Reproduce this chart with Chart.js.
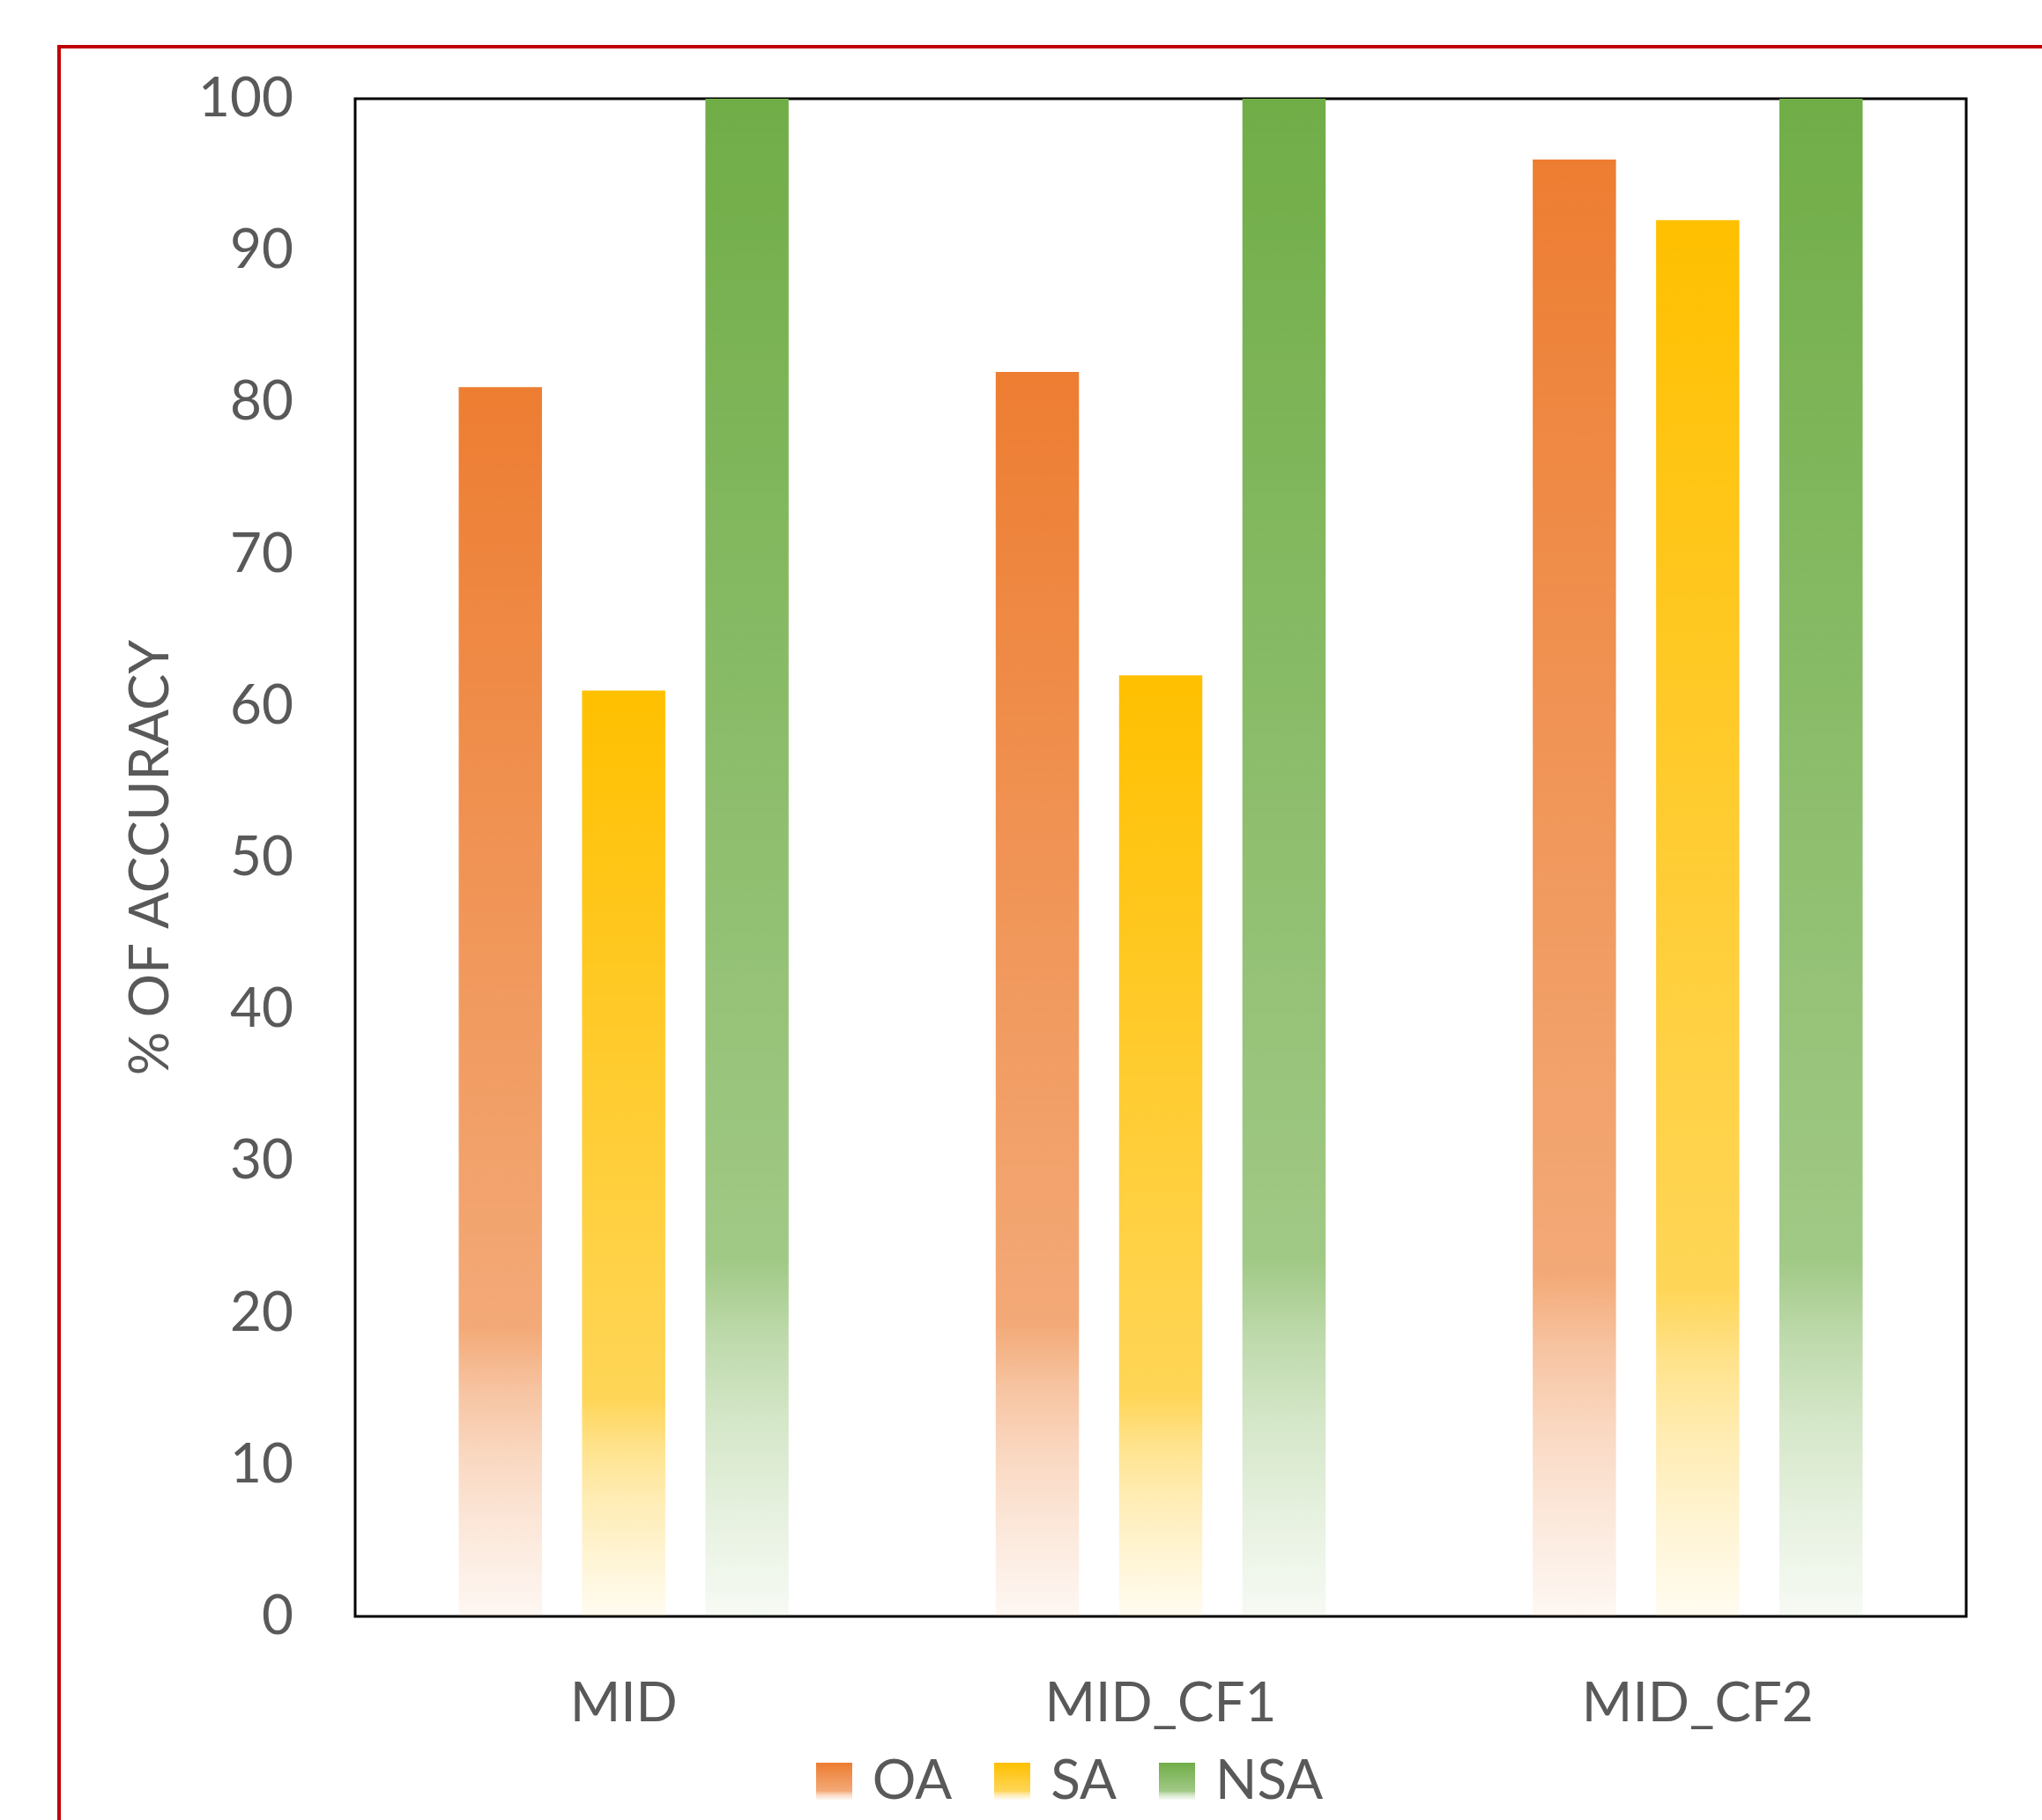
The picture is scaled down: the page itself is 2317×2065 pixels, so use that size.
<!DOCTYPE html>
<html>
<head>
<meta charset="utf-8">
<title>% of accuracy by dataset</title>
<script src="https://cdn.jsdelivr.net/npm/chart.js@4/dist/chart.umd.min.js"></script>
<style>
  html, body { margin: 0; padding: 0; background: #ffffff; overflow: hidden; }
  #wrap { width: 2317px; height: 2065px; position: relative; }
</style>
</head>
<body>
<div id="wrap"><canvas id="chart"></canvas></div>
<script>
// Categories and series
const categories = ['MID', 'MID_CF1', 'MID_CF2'];
const seriesNames = ['OA', 'SA', 'NSA'];
const oaValues = [81, 82, 96];
const saValues = [61, 62, 92];
const nsaValues = [100, 100, 100];
const yTickValues = [0, 10, 20, 30, 40, 50, 60, 70, 80, 90, 100];
const yAxisTitle = '% OF ACCURACY';

// Styling
const seriesColors = ['#ED7D31', '#FFC000', '#70AD47'];
const textColor = '#595959';
const fontSize = 62;
// Vertical fade of each bar: [position from top, opacity]
const fadeStops = [[0, 1], [0.765, 0.66], [0.815, 0.46], [0.87, 0.3], [0.935, 0.17], [1, 0.06]];

function rgba(hex, a) {
  const n = parseInt(hex.slice(1), 16);
  return `rgba(${(n >> 16) & 255},${(n >> 8) & 255},${n & 255},${a})`;
}

function fadeGradient(ctx, hex, top, bottom) {
  const g = ctx.createLinearGradient(0, top, 0, bottom);
  fadeStops.forEach(([p, a]) => g.addColorStop(p, rgba(hex, a)));
  return g;
}

// Gradient per bar, running from the bar's top down to its base
function barFill(hex) {
  return function (context) {
    const chart = context.chart;
    if (!chart.chartArea || context.type !== 'data') return hex;
    const y = chart.scales.y;
    const top = y.getPixelForValue(context.raw);
    const base = y.getPixelForValue(0);
    if (!isFinite(top) || !isFinite(base) || base - top < 1) return hex;
    return fadeGradient(chart.ctx, hex, top, base);
  };
}

// Small faded squares used as legend markers
function legendSwatch(hex) {
  const c = document.createElement('canvas');
  c.width = 41; c.height = 42;
  const cx = c.getContext('2d');
  cx.fillStyle = fadeGradient(cx, hex, 0, 42);
  cx.fillRect(0, 0, 41, 42);
  return c;
}

const seriesValues = [oaValues, saValues, nsaValues];
const datasets = seriesNames.map((name, i) => ({
  label: name,
  data: seriesValues[i],
  backgroundColor: barFill(seriesColors[i]),
  borderWidth: 0,
  categoryPercentage: 0.689,
  barPercentage: 0.675
}));

// Legend row offset relative to where the layout puts it
const legendShiftX = 102;
const legendShiftY = -50;

const framePlugin = {
  id: 'frame',
  afterLayout(chart) {
    const lg = chart.legend;
    lg.left += legendShiftX;
    lg.right += legendShiftX;
    lg.top += legendShiftY;
    lg.bottom += legendShiftY;
  },
  beforeDraw(chart) {
    const ctx = chart.ctx;
    ctx.save();
    ctx.strokeStyle = '#C00000';
    ctx.lineWidth = 4;
    ctx.beginPath();
    ctx.moveTo(67, chart.height + 10);
    ctx.lineTo(67, 53);
    ctx.lineTo(chart.width + 10, 53);
    ctx.stroke();
    ctx.restore();
  },
  beforeDatasetsDraw(chart) {
    const {ctx, chartArea: a} = chart;
    ctx.save();
    ctx.strokeStyle = '#000000';
    ctx.lineWidth = 3;
    ctx.strokeRect(a.left, a.top, a.right - a.left, a.bottom - a.top);
    ctx.restore();
  }
};

function build() {
  Chart.defaults.font.family = 'Lato';
  Chart.defaults.color = textColor;
  new Chart(document.getElementById('chart'), {
    type: 'bar',
    data: { labels: categories, datasets },
    options: {
      responsive: true,
      maintainAspectRatio: false,
      animation: false,
      devicePixelRatio: 1,
      layout: { padding: { left: 0, top: 112, right: 86, bottom: -47 } },
      plugins: {
        tooltip: { enabled: false },
        legend: {
          position: 'bottom',
          labels: {
            usePointStyle: true,
            pointStyleWidth: 25,
            padding: 56,
            color: textColor,
            font: { size: fontSize },
            generateLabels(chart) {
              return chart.data.datasets.map((ds, i) => ({
                text: ds.label,
                pointStyle: legendSwatch(seriesColors[i]),
                fillStyle: seriesColors[i],
                strokeStyle: 'rgba(0,0,0,0)',
                lineWidth: 0,
                fontColor: textColor,
                hidden: false,
                datasetIndex: i
              }));
            }
          }
        }
      },
      scales: {
        x: {
          grid: { display: false, drawTicks: false },
          border: { display: false },
          ticks: { color: textColor, font: { size: fontSize }, padding: 62 },
          afterFit(scale) { scale.height = 150; }
        },
        y: {
          min: 0,
          max: 100,
          afterBuildTicks(scale) { scale.ticks = yTickValues.map(v => ({ value: v })); },
          grid: { display: false, drawTicks: false },
          border: { display: false },
          ticks: { color: textColor, font: { size: fontSize }, padding: 70 },
          title: {
            display: true,
            text: yAxisTitle,
            color: textColor,
            font: { size: fontSize },
            padding: { top: 134, bottom: 0 }
          },
          afterFit(scale) { scale.width = 403; }
        }
      }
    },
    plugins: [framePlugin]
  });
}

if (document.fonts && document.fonts.load) {
  document.fonts.load(fontSize + 'px Lato').then(build, build);
} else {
  build();
}
</script>
</body>
</html>
